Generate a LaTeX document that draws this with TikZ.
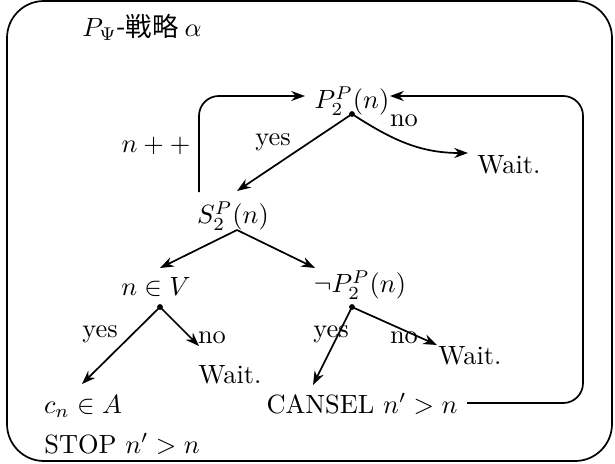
\documentclass[tikz,border=0pt]{standalone}
\usepackage{fontspec}
\newfontfamily\cjk{Noto Sans CJK JP}
\usetikzlibrary{arrows.meta}
\begin{document}
\begin{tikzpicture}[x=0.3788pt,y=-0.3788pt,
  line width=0.65pt,
  arr/.style={-{Stealth[length=5.2pt,width=3.8pt]}},
  txt/.style={inner sep=0pt},
  dotn/.style={circle,fill,inner sep=0pt,minimum size=2.2pt}]
\useasboundingbox (0,0) rectangle (615,463);
\draw[rounded corners=14pt] (7,1) rectangle (612,461);

% texts
\node[txt] (title) at (142,27) {$P_\Psi$\cjk{-戦略} $\alpha$};
\node[txt] (pp) at (352,101) {$P_2^P(n)$};
\node[txt] (s2) at (233,216) {$S_2^P(n)$};
\node[txt] (nv) at (156,287) {$n\in V$};
\node[txt] (np) at (360,285) {$\neg P_2^P(n)$};
\node[txt] (w1) at (509,165) {Wait.};
\node[txt] (w2) at (230,375) {Wait.};
\node[txt] (w3) at (470,356) {Wait.};
\node[txt] (cn) at (83,406) {$c_n\in A$};
\node[txt] (cansel) at (362,404) {CANSEL $n'>n$};
\node[txt] (stop) at (122,444) {STOP $n'>n$};
\node[txt] (npp) at (156,146) {$n++$};
\node[txt] (yes1) at (273,142) {yes};
\node[txt] (no1) at (404,121) {no};
\node[txt] (yes2) at (100,334) {yes};
\node[txt] (no2) at (212,338) {no};
\node[txt] (yes3) at (331,334) {yes};
\node[txt] (no3) at (404,338) {no};

% branch points
\node[dotn] (d1) at (352,114) {};
\coordinate (d2) at (237,230);
\node[dotn] (d3) at (160,307) {};
\node[dotn] (d4) at (352,307) {};

% arrow ends
\coordinate (e1) at (237,191);
\coordinate (e2) at (468,153);
\coordinate (e3) at (160,268);
\coordinate (e4) at (315,268);
\coordinate (e5) at (82,384);
\coordinate (e6) at (199,346);
\coordinate (e7) at (313,385);
\coordinate (e8) at (437,345);
\coordinate (ls) at (199,192);
\coordinate (le) at (305,96);
\coordinate (rs) at (467,403);
\coordinate (re) at (390,96);

\draw[arr] (d1.center) -- (e1);
\draw[arr] (d1.center) to[out=-33,in=180] (e2);
\draw[arr] (d2) -- (e3);
\draw[arr] (d2) -- (e4);
\draw[arr] (d3.center) -- (e5);
\draw[arr] (d3.center) -- (e6);
\draw[arr] (d4.center) -- (e7);
\draw[arr] (d4.center) -- (e8);
\draw[arr,rounded corners=7.5pt] (ls) |- (le);
\draw[arr,rounded corners=7.5pt] (rs) -- (583,403) -- (583,96) -- (re);
\end{tikzpicture}
\end{document}
